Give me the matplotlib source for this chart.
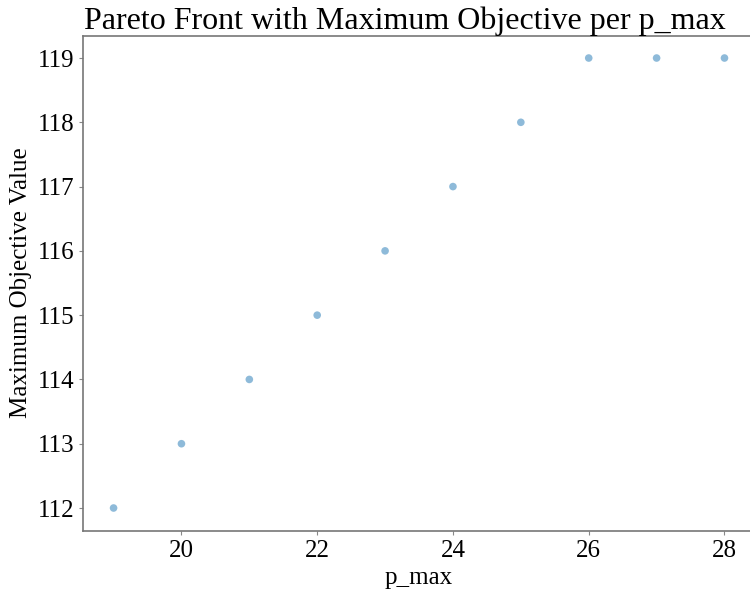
import matplotlib.pyplot as plt

plt.rcParams['font.family'] = ['Liberation Serif', 'DejaVu Serif']

p_max = [19, 20, 21, 22, 23, 24, 25, 26, 27, 28]
max_objective = [112, 113, 114, 115, 116, 117, 118, 119, 119, 119]

fig = plt.figure(figsize=(7.5, 5.94), dpi=100)
ax = fig.add_axes([0.1107, 0.1069, 0.896, 0.8333])

ax.scatter(p_max, max_objective, s=30, color='#1f77b4', alpha=0.5, edgecolors='none')

ax.set_title('Pareto Front with Maximum Objective per p_max', fontsize=23, pad=2, x=0.479)
ax.set_xlabel('p_max', fontsize=18)
ax.set_ylabel('Maximum Objective Value', fontsize=18)
ax.tick_params(labelsize=18, color='#888888', length=3)
for s in ax.spines.values():
    s.set_color('#777777')
    s.set_linewidth(1.2)

fig.savefig('out.png', dpi=100)
